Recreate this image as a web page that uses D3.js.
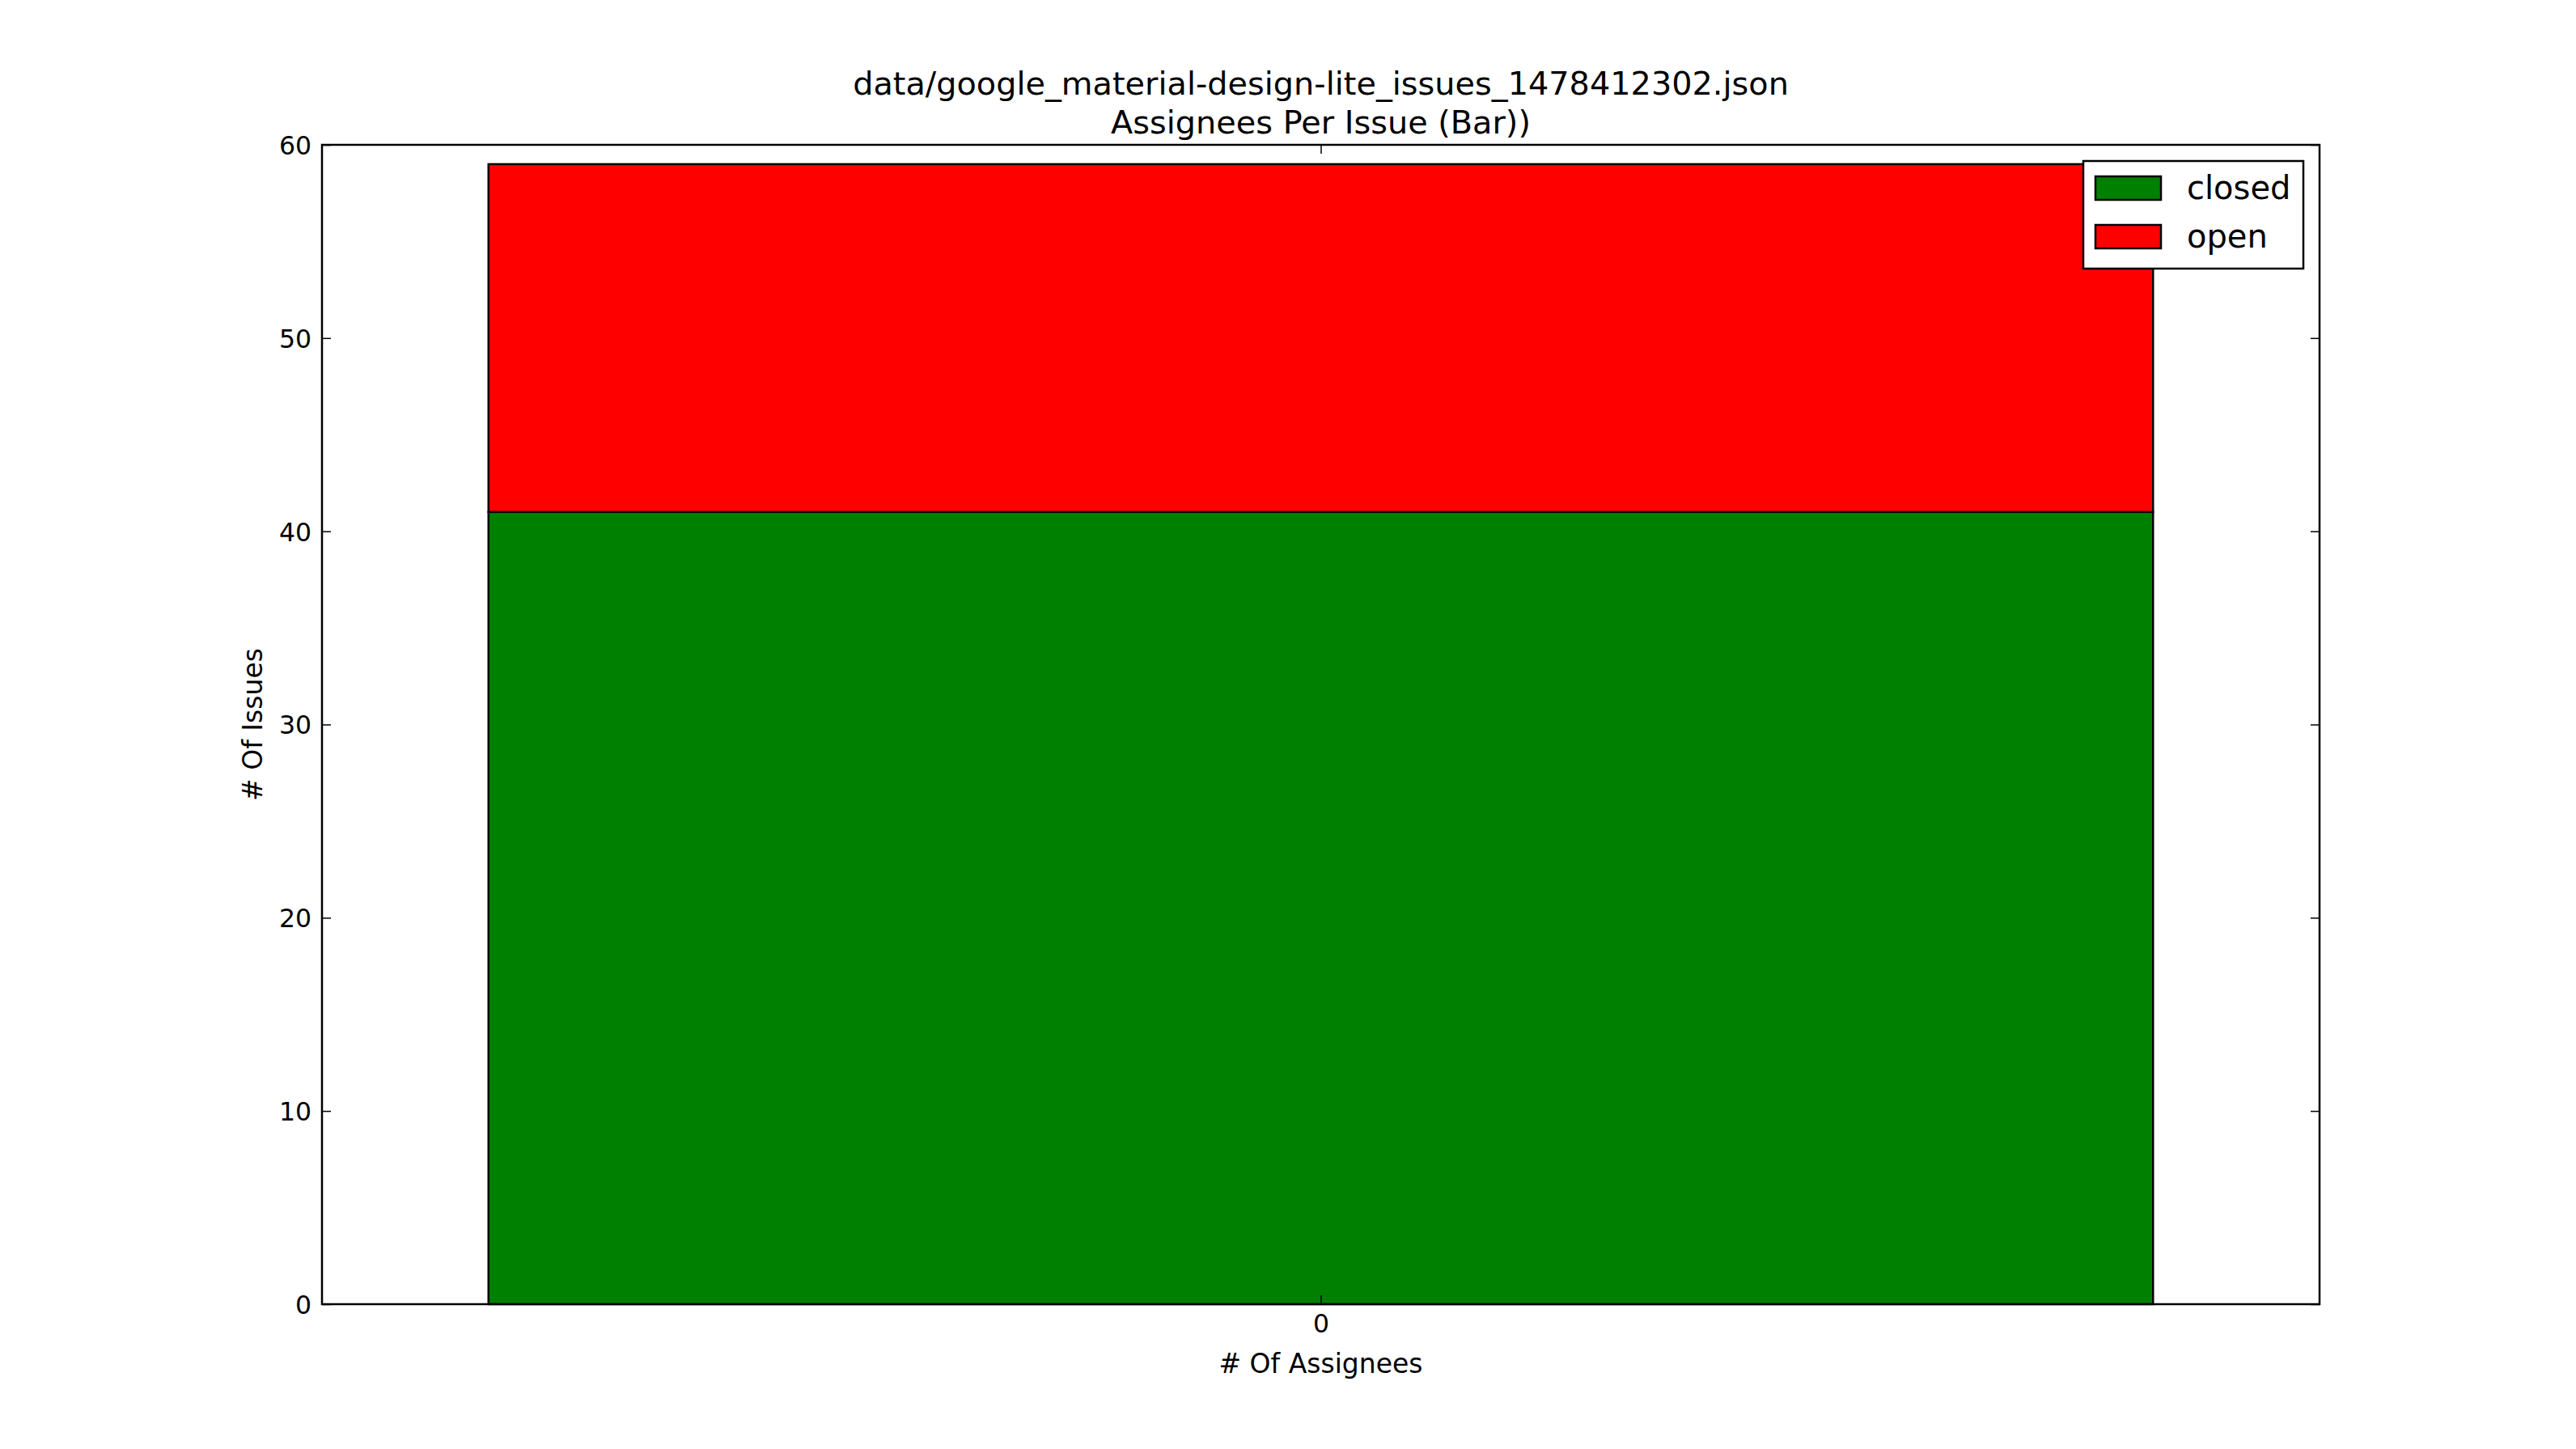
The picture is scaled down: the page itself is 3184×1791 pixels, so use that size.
<!DOCTYPE html>
<html>
<head>
<meta charset="utf-8">
<script src="https://cdn.jsdelivr.net/npm/d3@7"></script>
<style>
html,body{margin:0;padding:0;background:#fff;}
svg{display:block;}
text{font-family:"DejaVu Sans",sans-serif;fill:#000;}
</style>
</head>
<body>
<script>
const categories = ["0"];
const categoryX = [0];
const closedValues = [41];
const openValues = [18];
const seriesNames = ["closed", "open"];
const seriesColors = ["#008000", "#ff0000"];
const yTicks = [0, 10, 20, 30, 40, 50, 60];
const titleLines = ["data/google_material-design-lite_issues_1478412302.json", "Assignees Per Issue (Bar))"];
const xLabel = "# Of Assignees";
const yLabel = "# Of Issues";

const W = 3184, H = 1791;
const L = 398, R = 2867, T = 179, B = 1612;

const svg = d3.select("body").append("svg").attr("width", W).attr("height", H);

const x = d3.scaleLinear().domain([-0.48, 0.48]).range([L, R]);
const y = d3.scaleLinear().domain([0, 60]).range([B, T]);
const barW = 0.8;

const stacked = categoryX.map((c, i) => ({c, closed: closedValues[i], open: openValues[i]}));
const stack = d3.stack().keys(["closed", "open"])(stacked);

const g = svg.append("g");
stack.forEach((layer, li) => {
  g.selectAll(null).data(layer).enter().append("rect")
    .attr("x", d => x(d.data.c - barW / 2))
    .attr("width", d => x(d.data.c + barW / 2) - x(d.data.c - barW / 2))
    .attr("y", d => y(d[1]))
    .attr("height", d => y(d[0]) - y(d[1]))
    .attr("fill", seriesColors[li])
    .attr("stroke", "#000")
    .attr("stroke-width", 2.5);
});

// frame
svg.append("rect").attr("x", L).attr("y", T).attr("width", R - L).attr("height", B - T)
  .attr("fill", "none").attr("stroke", "#000").attr("stroke-width", 2.5);

const tickLen = 11;
// y axis left
const yAxisL = d3.axisLeft(y).tickValues(yTicks).tickSizeInner(-tickLen).tickSizeOuter(0).tickPadding(13).tickFormat(d3.format("d"));
const gyl = svg.append("g").attr("transform", `translate(${L},0)`).call(yAxisL);
gyl.select(".domain").remove();
gyl.selectAll("line").attr("stroke", "#000").attr("stroke-width", 1.5);
gyl.selectAll("text").attr("font-size", 31.5).attr("font-family", "DejaVu Sans").attr("dy", "0.36em");

const yAxisR = d3.axisRight(y).tickValues(yTicks).tickSizeInner(-tickLen).tickSizeOuter(0).tickFormat("");
const gyr = svg.append("g").attr("transform", `translate(${R},0)`).call(yAxisR);
gyr.select(".domain").remove();
gyr.selectAll("line").attr("stroke", "#000").attr("stroke-width", 1.5);

// x axis
const xAxisB = d3.axisBottom(x).tickValues(categoryX).tickFormat((d, i) => categories[i]).tickSizeInner(-tickLen).tickSizeOuter(0).tickPadding(13);
const gxb = svg.append("g").attr("transform", `translate(0,${B})`).call(xAxisB);
gxb.select(".domain").remove();
gxb.selectAll("line").attr("stroke", "#000").attr("stroke-width", 1.5);
gxb.selectAll("text").attr("font-size", 31.5).attr("font-family", "DejaVu Sans").attr("dy", "0.71em");

const xAxisT = d3.axisTop(x).tickValues(categoryX).tickFormat("").tickSizeInner(-tickLen).tickSizeOuter(0);
const gxt = svg.append("g").attr("transform", `translate(0,${T})`).call(xAxisT);
gxt.select(".domain").remove();
gxt.selectAll("line").attr("stroke", "#000").attr("stroke-width", 1.5);

// axis labels
svg.append("text").attr("x", (L + R) / 2).attr("y", 1697).attr("text-anchor", "middle")
  .attr("font-size", 33).text(xLabel);
svg.append("text").attr("transform", `translate(324,${(T + B) / 2}) rotate(-90)`).attr("text-anchor", "middle")
  .attr("font-size", 33).text(yLabel);

// title
svg.append("text").attr("x", (L + R) / 2).attr("y", 117).attr("text-anchor", "middle")
  .attr("font-size", 39.8).text(titleLines[0]);
svg.append("text").attr("x", (L + R) / 2).attr("y", 165).attr("text-anchor", "middle")
  .attr("font-size", 39.8).text(titleLines[1]);

// legend
const lg = svg.append("g");
lg.append("rect").attr("x", 2575).attr("y", 199).attr("width", 272).attr("height", 133)
  .attr("fill", "#fff").attr("stroke", "#000").attr("stroke-width", 2.5);
seriesNames.forEach((n, i) => {
  const yy = 218 + i * 60;
  lg.append("rect").attr("x", 2590).attr("y", yy).attr("width", 81).attr("height", 29)
    .attr("fill", seriesColors[i]).attr("stroke", "#000").attr("stroke-width", 2.5);
  lg.append("text").attr("x", 2703).attr("y", yy + 28).attr("font-size", 40).text(n);
});
</script>
</body>
</html>
